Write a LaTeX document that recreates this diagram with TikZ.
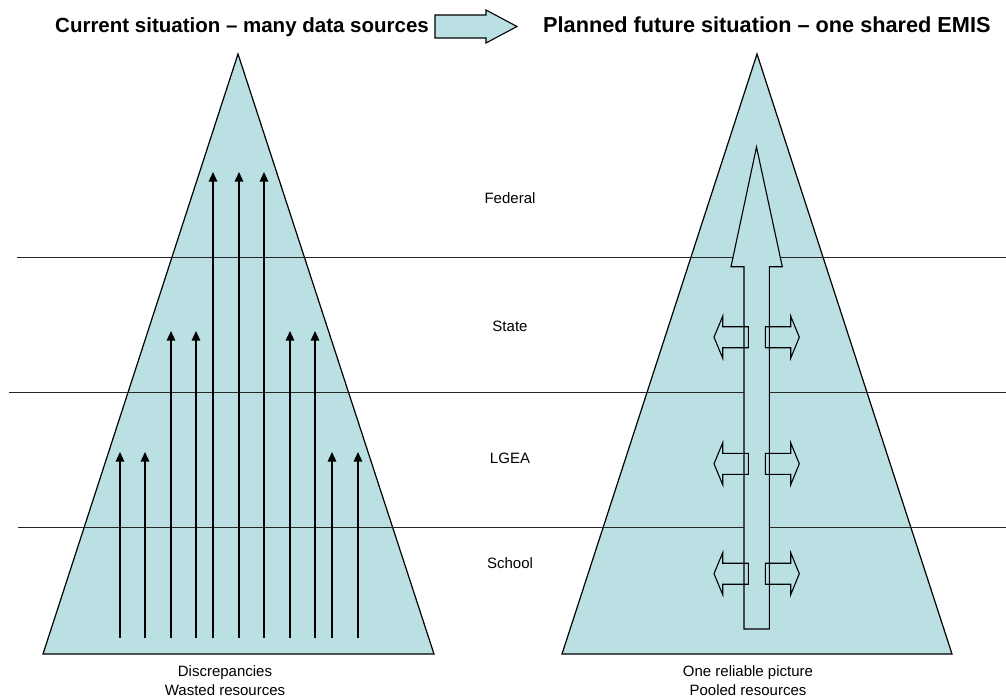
\documentclass[tikz,border=0pt]{standalone}
\usepackage{fontspec}
\setmainfont{Liberation Sans}
\usetikzlibrary{arrows.meta}
\definecolor{pale}{RGB}{187,224,227}
\begin{document}
\begin{tikzpicture}[x=1pt,y=-1pt,
  tri/.style={fill=pale,draw=black,line width=1.2pt,line join=miter},
  levelline/.style={draw=black!85,line width=1pt},
  flow/.style={line width=1.3pt,-{Triangle[length=9.5pt,width=8.5pt]}},
  blk/.style={fill=pale,draw=black,line width=1.1pt,line join=miter},
  blkline/.style={draw=black,line width=1.1pt,line join=miter},
  lbl/.style={font=\fontsize{15}{18}\selectfont,inner sep=0pt},
  ttl/.style={inner sep=0pt,anchor=base west}]
\useasboundingbox (0,0) rectangle (1006,698);

% triangles
\path[tri] (238,54) -- (434,654) -- (43,654) -- cycle;
\path[tri] (757,54) -- (952,654) -- (562,654) -- cycle;

% level lines
\coordinate (l1a) at (17,257);  \coordinate (l1b) at (1006,257);
\coordinate (l2a) at (9,392);   \coordinate (l2b) at (1006,392);
\coordinate (l3a) at (18,527);  \coordinate (l3b) at (1006,527);
\draw[levelline] (l1a) -- (l1b);
\draw[levelline] (l2a) -- (l2b);
\draw[levelline] (l3a) -- (l3b);

% many data flows
\foreach \x/\t in {120/452,145/452,171/331,196/331,213/172,239/172,264/172,290/331,315/331,332/452,358/452}{
  \coordinate (s\x) at (\x,638);
  \coordinate (e\x) at (\x,\t);
  \draw[flow] (s\x) -- (e\x);
}

% big shared arrow
\path[blk] (756.5,147) -- (782.3,266.7) -- (769.3,266.7) -- (769.3,629)
  -- (744,629) -- (744,266.7) -- (731,266.7) -- cycle;

% side arrows
\foreach \cy in {337.2,463.8,573.7}{
  \path[blkline] (714,\cy) -- (722.7,\cy-21) -- (722.7,\cy-10.5) -- (748.3,\cy-10.5)
    -- (748.3,\cy+10.5) -- (722.7,\cy+10.5) -- (722.7,\cy+21) -- cycle;
  \path[blkline] (799.3,\cy) -- (790.7,\cy-21) -- (790.7,\cy-10.5) -- (765.3,\cy-10.5)
    -- (765.3,\cy+10.5) -- (790.7,\cy+10.5) -- (790.7,\cy+21) -- cycle;
}

% level labels
\node[lbl] (federal) at (510,198) {Federal};
\node[lbl] (state) at (510,326) {State};
\node[lbl] (lgea) at (510,458) {LGEA};
\node[lbl] (school) at (510,563) {School};

% bottom texts
\node[lbl,anchor=base] (disc) at (225,676) {Discrepancies};
\node[lbl,anchor=base] (waste) at (225,695) {Wasted resources};
\node[lbl,anchor=base] (one) at (748,676) {One reliable picture};
\node[lbl,anchor=base] (pool) at (748,695) {Pooled resources};

% titles
\node[ttl,font=\fontsize{20.5}{24}\selectfont\bfseries] (cur) at (55,33) {Current situation – many data sources};
\node[ttl,font=\fontsize{21.7}{26}\selectfont\bfseries] (fut) at (543,33) {Planned future situation – one shared EMIS};

% header block arrow
\path[blk] (435,15) -- (486,15) -- (486,10) -- (517,26.5) -- (486,43) -- (486,38) -- (435,38) -- cycle;
\end{tikzpicture}
\end{document}
